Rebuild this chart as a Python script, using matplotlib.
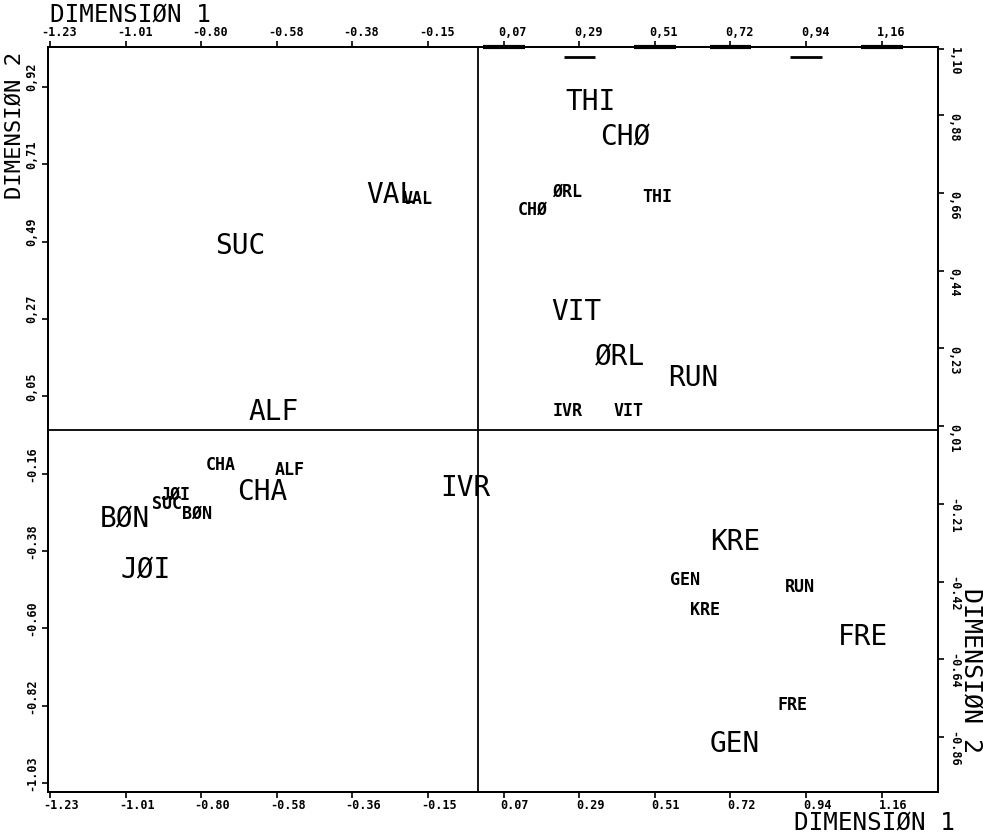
import numpy as np
import matplotlib
matplotlib.use("Agg")
import matplotlib.pyplot as plt
from matplotlib.transforms import ScaledTranslation, blended_transform_factory

plt.rcParams['font.family'] = ['DejaVu Sans Mono', 'DejaVu Sans']

# ---- data: configuration 1 (large labels) ----
big_names = ["THI", "CHØ", "SUC", "VAL", "VIT", "ØRL", "RUN", "ALF", "IVR",
             "CHA", "BØN", "JØI", "KRE", "FRE", "GEN"]
big_x = [0.250, 0.351, -0.756, -0.322, 0.210, 0.336, 0.546, -0.661, -0.109,
         -0.693, -1.086, -1.029, 0.667, 1.034, 0.667]
big_y = [0.896, 0.796, 0.493, 0.636, 0.308, 0.182, 0.123, 0.028, -0.185,
         -0.196, -0.272, -0.415, -0.336, -0.602, -0.902]

# ---- data: configuration 2 (small labels) ----
small_names = ["ØRL", "CHØ", "THI", "VAL", "IVR", "VIT", "CHA", "ALF", "JØI",
               "SUC", "BØN", "GEN", "RUN", "KRE", "FRE"]
small_x = [0.213, 0.115, 0.471, -0.218, 0.213, 0.388, -0.784, -0.583, -0.914,
           -0.937, -0.851, 0.552, 0.882, 0.609, 0.862]
small_y = [0.653, 0.602, 0.639, 0.633, 0.039, 0.039, -0.112, -0.126, -0.196,
           -0.221, -0.249, -0.434, -0.454, -0.518, -0.784]

# ---- tick labels ----
bottom_labels = ["-1.23", "-1.01", "-0.80", "-0.58", "-0.36", "-0.15",
                 "0.07", "0.29", "0.51", "0.72", "0.94", "1.16"]
top_labels = ["-1.23", "-1.01", "-0.80", "-0.58", "-0.38", "-0.15",
              "0,07", "0,29", "0,51", "0,72", "0,94", "1,16"]
left_labels = ["0,92", "0,71", "0,49", "0,27", "0,05",
               "-0.16", "-0.38", "-0.60", "-0.82", "-1.03"]
right_labels = ["1,10", "0,88", "0,66", "0,44", "0,23",
                "0,01", "-0.21", "-0.42", "-0.64", "-0.86"]

W, H = 983, 834
fig = plt.figure(figsize=(W / 100, H / 100), dpi=100)
L, R, T, B = 48, 938, 47, 792
ax = fig.add_axes([L / W, (H - B) / H, (R - L) / W, (B - T) / H])
xlim = (-1.236, 1.322)
ylim = (-1.014, 1.073)
ax.set_xlim(*xlim)
ax.set_ylim(*ylim)

xticks = np.linspace(-1.23, 1.16, len(bottom_labels))
lticks = np.linspace(0.961, -0.989, len(left_labels))
rticks = np.linspace(1.10, -0.86, len(right_labels))
rticks[0] = 1.068

tick_font = dict(fontsize=8.5, fontweight='bold')
for sp in ax.spines.values():
    sp.set_linewidth(1.4)

ax.set_xticks(xticks)
ax.set_xticklabels(bottom_labels, **tick_font)
ax.set_yticks(lticks)
ax.set_yticklabels(left_labels, rotation=90, va='center', **tick_font)
ax.tick_params(axis='x', direction='out', length=4, width=1.2, pad=1)
ax.tick_params(axis='y', direction='out', length=4, width=1.2, pad=3)

ax_top = ax.twiny()
ax_top.set_xlim(*xlim)
ax_top.set_xticks(xticks)
ax_top.set_xticklabels(top_labels, **tick_font)
ax_top.tick_params(direction='out', length=4, width=1.2, pad=1.5)

ax_r = ax.twinx()
ax_r.set_ylim(*ylim)
ax_r.set_yticks(rticks)
ax_r.set_yticklabels(right_labels, rotation=270, va='center', **tick_font)
ax_r.tick_params(direction='out', length=4, width=1.2, pad=3)
for a in (ax_top, ax_r):
    for sp in a.spines.values():
        sp.set_linewidth(1.4)

# shift tick labels like the plotter did
def shift(labels, dx, dy):
    off = ScaledTranslation(dx / 100, dy / 100, fig.dpi_scale_trans)
    for lb in labels:
        lb.set_transform(lb.get_transform() + off)

shift(ax.get_xticklabels(), 11, 0)
shift(ax_top.get_xticklabels(), 9, 0)
shift(ax.get_yticklabels(), 0, 10)
shift(ax_r.get_yticklabels(), 0, -12)

# crosshair through the origin
ax.axvline(0, color='black', lw=1.3)
ax.axhline(0, color='black', lw=1.3)

# plotter artifacts along the top edge
trans = blended_transform_factory(ax.transData, ax.transAxes)
for i in [6, 8, 9, 11]:
    ax.plot([xticks[i] - 0.06, xticks[i] + 0.06], [1.0, 1.0], transform=trans,
            color='black', lw=3, solid_capstyle='butt', clip_on=False)
for i in [7, 10]:
    ax.plot([xticks[i] - 0.045, xticks[i] + 0.045], [0.986, 0.986], transform=trans,
            color='black', lw=2, solid_capstyle='butt', clip_on=False)

for n, x, y in zip(big_names, big_x, big_y):
    ax.text(x, y, n, fontsize=20, ha='left', va='baseline', color='black')
for n, x, y in zip(small_names, small_x, small_y):
    ax.text(x, y, n, fontsize=12, fontweight='bold', ha='left', va='baseline',
            color='black')

fig.text(50 / W, 1 - 21 / H, "DIMENSIØN 1", fontsize=17.5, ha='left',
         va='baseline')
fig.text(955 / W, 1 - 830 / H, "DIMENSIØN 1", fontsize=17.5, ha='right',
         va='baseline')
fig.text(15 / W, 1 - 52 / H, "DIMENSIØN 2", fontsize=16, ha='center', va='top',
         rotation=90)
fig.text(972 / W, 1 - 588 / H, "DIMENSIØN 2", fontsize=18, ha='center', va='top',
         rotation=270)

fig.savefig("out.png", dpi=100)
